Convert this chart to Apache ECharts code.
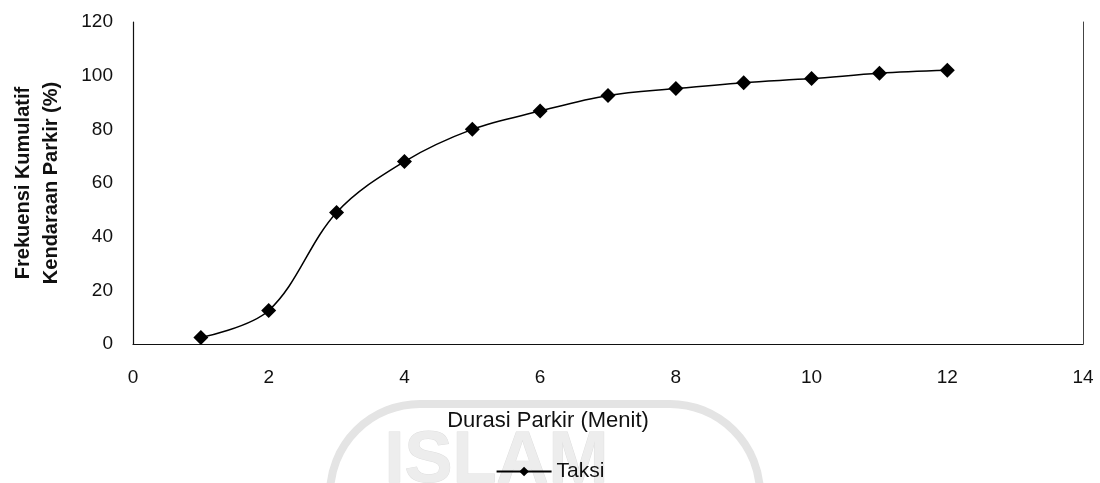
<!DOCTYPE html>
<html>
<head>
<meta charset="utf-8">
<script src="https://cdn.jsdelivr.net/npm/echarts@6/dist/echarts.min.js"></script>
<style>html,body{margin:0;padding:0;background:#fff;}#c{width:1100px;height:483px;}</style>
</head>
<body>
<div id="c"></div>
<script>
const durations = [1, 2, 3, 4, 5, 6, 7, 8, 9, 10, 11, 12];
const taksi = [2.4, 12.5, 49, 68, 80, 86.8, 92.6, 95.2, 97.4, 98.9, 100.9, 102];
const seriesName = 'Taksi';
const xTitle = 'Durasi Parkir (Menit)';
const yTitle = 'Frekuensi Kumulatif\nKendaraan Parkir (%)';
const watermark = 'ISLAM';

const chart = echarts.init(document.getElementById('c'));
const font = 'Liberation Sans, Arial, sans-serif';
chart.setOption({
  animation: false,
  backgroundColor: '#fff',
  graphic: [{
    type: 'rect', z: -10, silent: true,
    shape: { x: 330, y: 404, width: 430, height: 260, r: 90 },
    style: { fill: 'rgba(0,0,0,0)', stroke: '#e4e4e4', lineWidth: 8 }
  }, {
    type: 'text', left: 384, top: 426, z: -10, silent: true,
    style: {
      text: watermark, fontFamily: font, fontSize: 72, fontWeight: 'bold',
      fill: '#ededed', stroke: '#dedede', lineWidth: 1
    }
  }],
  grid: { left: 133, right: 17, top: 22, bottom: 139 },
  xAxis: {
    type: 'value', min: 0, max: 14, interval: 2,
    name: xTitle, nameLocation: 'middle', nameGap: 66,
    nameTextStyle: { fontFamily: font, fontSize: 22, color: '#111', padding: [0, 120, 0, 0] },
    axisLine: { show: true, onZero: false, lineStyle: { color: '#111', width: 1.2 } },
    axisTick: { show: false },
    splitLine: { show: false },
    axisLabel: { fontFamily: font, fontSize: 19, color: '#111', margin: 24 }
  },
  yAxis: [{
    type: 'value', min: 0, max: 120, interval: 20,
    name: yTitle, nameLocation: 'middle', nameGap: 68,
    nameTextStyle: { fontFamily: font, fontSize: 20, fontWeight: 'bold', color: '#111', lineHeight: 28 },
    axisLine: { show: true, lineStyle: { color: '#111', width: 1.2 } },
    axisTick: { show: false },
    splitLine: { show: false },
    axisLabel: { fontFamily: font, fontSize: 19, color: '#111', margin: 20 }
  }, {
    type: 'value', min: 0, max: 120, position: 'right',
    axisLine: { show: true, lineStyle: { color: '#444', width: 1 } },
    axisTick: { show: false }, axisLabel: { show: false }, splitLine: { show: false }
  }],
  legend: {
    bottom: -4, left: 'center',
    itemWidth: 55, itemHeight: 12, itemGap: 10,
    textStyle: { fontFamily: font, fontSize: 21, color: '#111' },
    data: [seriesName]
  },
  series: [{
    name: seriesName, type: 'line', yAxisIndex: 0,
    data: durations.map((d, i) => [d, taksi[i]]),
    smooth: 0.35,
    symbol: 'diamond', symbolSize: 15,
    itemStyle: { color: '#000' },
    lineStyle: { color: '#000', width: 1.5 }
  }]
});
</script>
</body>
</html>
